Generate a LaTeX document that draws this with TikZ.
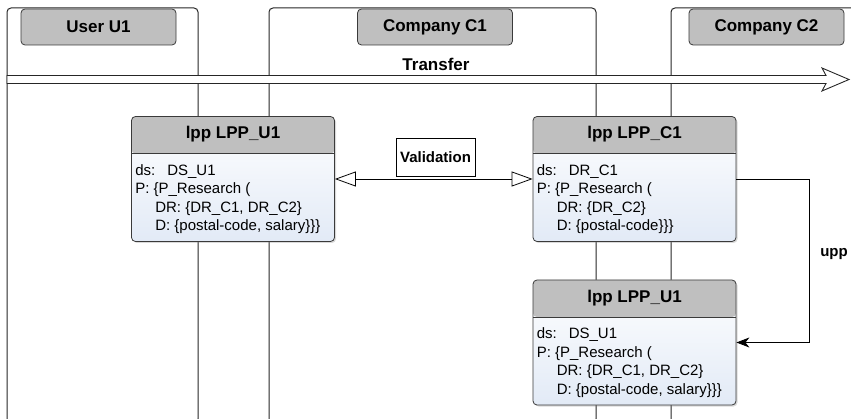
\documentclass[tikz,border=0pt]{standalone}
\usepackage{fontspec}
\setmainfont{Liberation Sans}
\usetikzlibrary{arrows.meta,shadows,positioning}

\definecolor{headgray}{HTML}{BFBFBF}
\definecolor{linegray}{HTML}{3A3A3A}
\definecolor{bodyblue}{HTML}{E2EAF6}

\newcommand{\headfont}{\fontsize{17}{20}\selectfont\bfseries}
\newcommand{\labelfont}{\fontsize{15}{18}\selectfont\bfseries}
\newcommand{\policyfont}{\fontsize{15}{18.5}\selectfont}

\begin{document}
\begin{tikzpicture}[x=1pt, y=-1pt]
    % Define styles
    \tikzset{
        lane/.style={draw=black!85, line width=1pt, rounded corners=4pt},
        lanehead/.style={rectangle, draw=linegray, line width=0.8pt, fill=headgray, rounded corners=4pt, minimum width=155pt, minimum height=36pt, font=\headfont},
        lppbox/.style={rectangle, draw=linegray, line width=0.8pt, rounded corners=4pt, minimum width=203pt, minimum height=125pt,
            top color=white, bottom color=bodyblue,
            drop shadow={shadow xshift=1.5pt, shadow yshift=-1.5pt, opacity=0.3},
            path picture={
                \fill[headgray] (path picture bounding box.north west) rectangle ([yshift=-37pt]path picture bounding box.north east);
                \draw[linegray, line width=0.8pt] ([yshift=-37pt]path picture bounding box.north west) -- ([yshift=-37pt]path picture bounding box.north east);
            }},
        title/.style={font=\headfont},
        policy/.style={font=\policyfont, align=left, anchor=north west, inner sep=0pt},
        arrow/.style={-{Stealth[length=13pt, width=10pt, inset=4pt]}, draw=black, line width=0.8pt},
        validarrow/.style={{Triangle[open, length=21pt, width=15pt]}-{Triangle[open, length=21pt, width=15pt]}, draw=black, line width=0.8pt}
    }
    \useasboundingbox (0,0) rectangle (851,419);

    % Lanes
    \draw[lane] (7,8) rectangle (198,423);
    \draw[lane] (269,8) rectangle (596,423);
    \draw[lane] (671,8) rectangle (875,423);
    \node[lanehead] (user_u1) at (98.5,27) {User U1};
    \node[lanehead] (company_c1) at (435,27) {Company C1};
    \node[lanehead] (company_c2) at (766.5,27) {Company C2};

    % Transfer
    \coordinate (transfer_start) at (7,79.5);
    \coordinate (transfer_end) at (849,79.5);
    \fill[white] ([yshift=4pt]transfer_start) rectangle ([xshift=-23pt, yshift=-4pt]transfer_end);
    \draw[black!85, line width=0.9pt] ([yshift=4pt]transfer_start) -- ([xshift=-23pt, yshift=4pt]transfer_end)
        -- ([xshift=-27pt, yshift=11.5pt]transfer_end) -- (transfer_end) -- ([xshift=-27pt, yshift=-11.5pt]transfer_end)
        -- ([xshift=-23pt, yshift=-4pt]transfer_end) -- ([yshift=-4pt]transfer_start) -- cycle;
    \node[title] (transfer_label) at (436,64) {Transfer};

    % Policies
    \node[lppbox] (lpp_u1) at (233,179) {};
    \node[title] (lpp_u1_title) at ([yshift=-18.5pt]lpp_u1.north) {lpp LPP\_U1};
    \node[policy] (lpp_u1_text) at ([xshift=4pt, yshift=-48pt]lpp_u1.north west)
        {ds:\hspace{12pt}DS\_U1\\P: \{P\_Research (\\\hspace{20pt}DR: \{DR\_C1, DR\_C2\}\\\hspace{20pt}D: \{postal-code, salary\}\}\}};

    \node[lppbox] (lpp_c1) at (634.5,179) {};
    \node[title] (lpp_c1_title) at ([yshift=-18.5pt]lpp_c1.north) {lpp LPP\_C1};
    \node[policy] (lpp_c1_text) at ([xshift=4pt, yshift=-48pt]lpp_c1.north west)
        {ds:\hspace{12pt}DR\_C1\\P: \{P\_Research (\\\hspace{20pt}DR: \{DR\_C2\}\\\hspace{20pt}D: \{postal-code\}\}\}};

    \node[lppbox] (lpp_u1_copy) at (634.5,342.5) {};
    \node[title] (lpp_u1_copy_title) at ([yshift=-18.5pt]lpp_u1_copy.north) {lpp LPP\_U1};
    \node[policy] (lpp_u1_copy_text) at ([xshift=4pt, yshift=-48pt]lpp_u1_copy.north west)
        {ds:\hspace{12pt}DS\_U1\\P: \{P\_Research (\\\hspace{20pt}DR: \{DR\_C1, DR\_C2\}\\\hspace{20pt}D: \{postal-code, salary\}\}\}};

    % Arrows
    \node[rectangle, draw=black, line width=0.8pt, fill=white, font=\labelfont, minimum width=79pt, minimum height=38pt] (validation) at (435.5,157) {Validation};
    \draw[validarrow] (lpp_u1.east) -- (lpp_c1.west);
    \draw[arrow] (lpp_c1.east) -| ([xshift=73pt]lpp_u1_copy.east) -- (lpp_u1_copy.east);
    \node[font=\labelfont] (upp_label) at (834,254) {upp};
\end{tikzpicture}
\end{document}
